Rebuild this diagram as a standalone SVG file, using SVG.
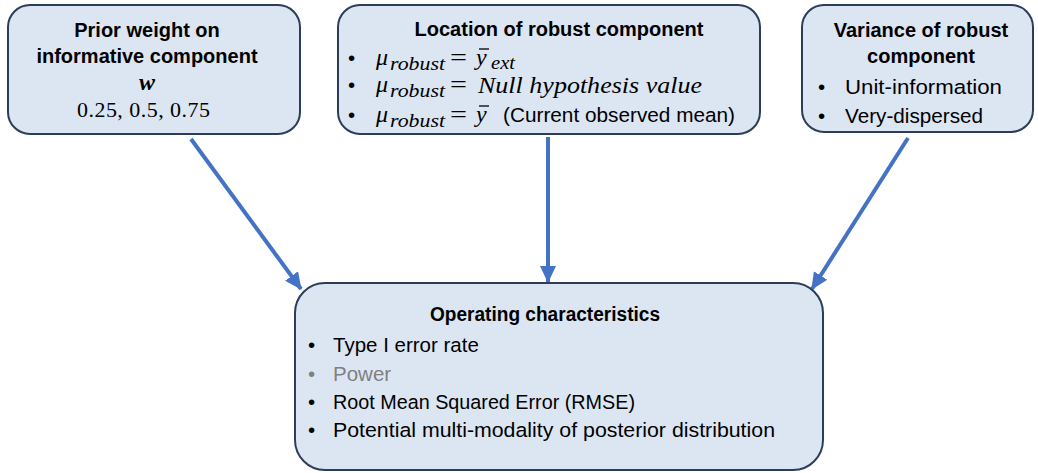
<svg xmlns="http://www.w3.org/2000/svg" width="1038" height="473" viewBox="0 0 1038 473">
<style>
.box{fill:#dce6f3;stroke:#2c3d5a;stroke-width:2}
.t{font-family:"Liberation Sans",Arial,sans-serif;font-size:20.5px;fill:#000}
.b{font-weight:bold;font-size:20px}
.m{font-family:"Liberation Serif","Times New Roman",serif;font-size:24px;font-style:italic;fill:#000}
.s{font-family:"Liberation Serif","Times New Roman",serif;font-size:18px;font-style:italic;fill:#000}
.eq{font-family:"Liberation Serif","Times New Roman",serif;font-size:24px;fill:#000}
.n{font-family:"Liberation Serif","Times New Roman",serif;font-size:22px;fill:#000}
.g{fill:#808080}
.bar{stroke:#000;stroke-width:1.3}
.conn{stroke:#4472c4;stroke-width:4;fill:none;marker-end:url(#ah)}
</style>
<defs>
<marker id="ah" markerUnits="userSpaceOnUse" markerWidth="18" markerHeight="18" viewBox="0 0 18 18" refX="16" refY="9" orient="auto">
<path d="M0,1 L17,9 L0,17 Z" fill="#4472c4"/>
</marker>
</defs>
<g id="connectors">
<line class="conn" x1="191" y1="139" x2="301" y2="289"/>
<line class="conn" x1="548" y1="137" x2="548" y2="282"/>
<line class="conn" x1="908" y1="138" x2="812" y2="289"/>
</g>
<g id="node-weight">
<rect class="box" x="8" y="5" width="292" height="129" rx="22"/>
<text class="t b" x="147" y="37" text-anchor="middle">Prior weight on</text>
<text class="t b" x="147" y="63" text-anchor="middle">informative component</text>
<text class="m" x="147" y="90" text-anchor="middle" font-weight="bold">w</text>
<text class="n" x="77" y="117" textLength="133" lengthAdjust="spacing">0.25, 0.5, 0.75</text>
</g>
<g id="node-location">
<rect class="box" x="338" y="5" width="422" height="129" rx="22"/>
<text class="t b" x="559" y="36" text-anchor="middle">Location of robust component</text>
<text class="t" x="348" y="65">•</text>
<text class="m" x="376" y="65">μ</text>
<text class="s" x="390" y="70" textLength="55" lengthAdjust="spacingAndGlyphs">robust</text>
<text class="eq" x="450" y="65" textLength="17" lengthAdjust="spacingAndGlyphs">=</text>
<text class="m" x="476" y="65">y</text>
<line class="bar" x1="479" y1="49" x2="489" y2="49"/>
<text class="s" x="491" y="69" font-size="17" textLength="24" lengthAdjust="spacingAndGlyphs">ext</text>
<text class="t" x="348" y="92">•</text>
<text class="m" x="376" y="92">μ</text>
<text class="s" x="390" y="97" textLength="55" lengthAdjust="spacingAndGlyphs">robust</text>
<text class="eq" x="450" y="92" textLength="17" lengthAdjust="spacingAndGlyphs">=</text>
<text class="m" x="478" y="93" font-size="22" textLength="224" lengthAdjust="spacingAndGlyphs">Null hypothesis value</text>
<text class="t" x="348" y="122">•</text>
<text class="m" x="376" y="122">μ</text>
<text class="s" x="390" y="127" textLength="55" lengthAdjust="spacingAndGlyphs">robust</text>
<text class="eq" x="450" y="122" textLength="17" lengthAdjust="spacingAndGlyphs">=</text>
<text class="m" x="476" y="122">y</text>
<line class="bar" x1="479" y1="106" x2="489" y2="106"/>
<text class="t" x="503" y="122" textLength="232" lengthAdjust="spacingAndGlyphs">(Current observed mean)</text>
</g>
<g id="node-variance">
<rect class="box" x="802" y="5" width="231" height="127" rx="22"/>
<text class="t b" x="921" y="37" text-anchor="middle">Variance of robust</text>
<text class="t b" x="921" y="63" text-anchor="middle">component</text>
<text class="t" x="818" y="94">•</text>
<text class="t" x="845" y="94" font-size="21.5" textLength="157" lengthAdjust="spacingAndGlyphs">Unit-information</text>
<text class="t" x="818" y="123">•</text>
<text class="t" x="845" y="123" font-size="21.5" textLength="138" lengthAdjust="spacingAndGlyphs">Very-dispersed</text>
</g>
<g id="node-operating">
<rect class="box" x="295" y="283" width="528" height="187" rx="30"/>
<text class="t b" x="545" y="321" text-anchor="middle" textLength="230" lengthAdjust="spacingAndGlyphs">Operating characteristics</text>
<text class="t" x="308" y="352">•</text>
<text class="t" x="333" y="352">Type I error rate</text>
<text class="t g" x="308" y="381">•</text>
<text class="t g" x="333" y="381">Power</text>
<text class="t" x="308" y="409">•</text>
<text class="t" x="333" y="409" textLength="302" lengthAdjust="spacingAndGlyphs">Root Mean Squared Error (RMSE)</text>
<text class="t" x="308" y="437">•</text>
<text class="t" x="333" y="437" textLength="442" lengthAdjust="spacingAndGlyphs">Potential multi-modality of posterior distribution</text>
</g>
</svg>
